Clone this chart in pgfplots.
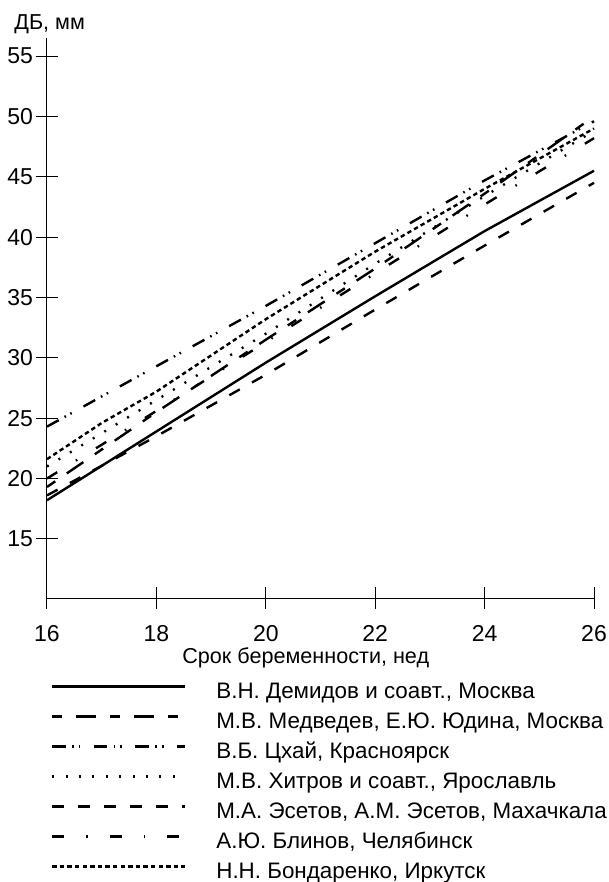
\documentclass[border=0pt]{standalone}
\usepackage{fontspec}
\setmainfont{Liberation Sans}
\usepackage{pgfplots}
\pgfplotsset{compat=1.18}
\begin{document}
\begin{tikzpicture}
\begin{axis}[
 name=ax,
 scale only axis, width=273.5pt, height=280pt,
 xmin=16, xmax=26, ymin=10.1, ymax=56.5,
 axis x line=bottom, axis y line=left,
 axis line style={-, line width=0.5pt},
 xtick={16,18,...,26}, ytick={15,20,...,55},
 tick align=center, major tick length=11pt,
 tick style={line width=0.5pt, black},
 /pgf/number format/assume math mode=true,
 tick label style={font=\fontsize{11.5}{13}\selectfont},
 xticklabel style={yshift=-4.5pt},
 yticklabel style={xshift=2pt},
 xlabel={Срок беременности, нед},
 xlabel style={font=\fontsize{10.8}{12}\selectfont, at={(rel axis cs:0.473,0)}, anchor=base, yshift=-32.5pt},
 clip=false,
 cycle list={{black}},
 every axis plot/.append style={line width=1.2pt, black, no marks},
 legend style={at={(rel axis cs:-0.0045,-0.145)}, anchor=north west, draw=none, fill=none,
   font=\fontsize{11.2}{13}\selectfont,
   nodes={inner ysep=0pt, text height=7.3pt, text depth=2pt},
   row sep=5.7pt,
   /tikz/every odd column/.append style={column sep=13pt}},
 legend cell align=left,
 legend image code/.code={\draw[#1] (0pt,3.3pt) -- (66.5pt,3.3pt);},
]
\node[anchor=base west, inner sep=0pt, font=\fontsize{10.8}{12}\selectfont] at ([xshift=-16.5pt,yshift=4pt]rel axis cs:0,1) {ДБ, мм};
% Demidov
\addplot[solid] coordinates {(16,18.2) (18,23.9) (20,29.6) (22,35.1) (24,40.5) (26,45.5)};
% Medvedev
\addplot[dash pattern=on 5pt off 7pt on 10pt off 7pt] coordinates {(16,19.3) (18,25.5) (20,31.5) (22,37.4) (24,43.6) (26,50.0)};
% Tskhai
\addplot[dash pattern=on 6.7pt off 3.3pt on 0.8pt off 2.5pt on 0.8pt off 6.7pt] coordinates {(16,24.3) (18,29.3) (20,34.3) (22,39.5) (24,44.7) (26,49.6)};
% Khitrov
\addplot[dash pattern=on 1pt off 5.7pt] coordinates {(16,21.0) (18,26.5) (20,32.0) (22,37.8) (24,43.4) (26,48.8)};
% Esetov
\addplot[dash pattern=on 6pt off 7pt] coordinates {(16,18.6) (18,23.5) (20,28.6) (22,34.0) (24,39.3) (26,44.5)};
% Blinov
\addplot[dash pattern=on 6pt off 11pt on 0.8pt off 11pt] coordinates {(16,20.0) (18,25.6) (20,31.3) (22,37.0) (24,42.7) (26,48.2)};
% Bondarenko
\addplot[dash pattern=on 2.2pt off 1.6pt] coordinates {(16,21.6) (17,24.6) (18,27.2) (20,33.2) (22,38.8) (24,44.0) (26,49.0)};
\legend{{В.Н. Демидов и соавт., Москва},{М.В. Медведев, Е.Ю. Юдина, Москва},{В.Б. Цхай, Красноярск},{М.В. Хитров и соавт., Ярославль},{М.А. Эсетов, А.М. Эсетов, Махачкала},{А.Ю. Блинов, Челябинск},{Н.Н. Бондаренко, Иркутск}}
\end{axis}
\pgfresetboundingbox
\useasboundingbox ([xshift=-23.5pt,yshift=-142pt]ax.south west) rectangle ([xshift=281pt,yshift=299pt]ax.south west);
\end{tikzpicture}
\end{document}
